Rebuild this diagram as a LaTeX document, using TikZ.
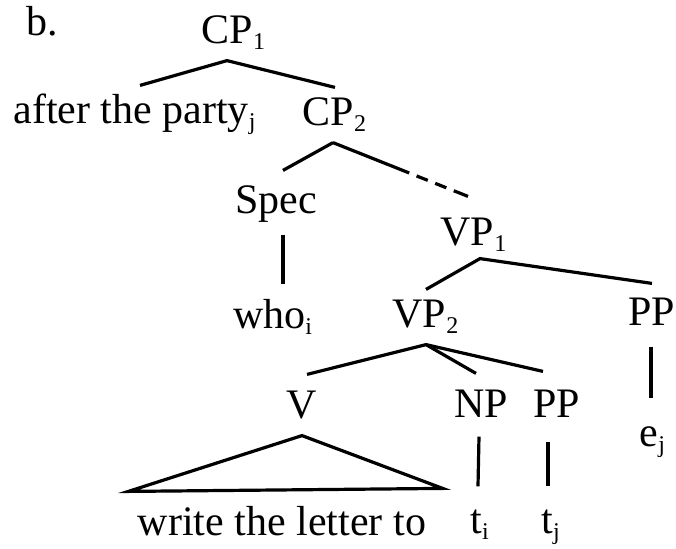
\documentclass[tikz,border=0pt]{standalone}
\usepackage{fontspec}
\setmainfont{Liberation Serif}
\usepackage{tikz}
\newcommand{\sbs}[1]{\textsubscript{\fontsize{12}{12}\selectfont #1}}

\begin{document}
\begin{tikzpicture}[x=0.5pt,y=-0.5pt,line width=1.6pt,
                    cat/.style={font=\fontsize{21}{25}\selectfont,anchor=base,text height=14pt,text depth=4pt,inner sep=4pt}]
                    \useasboundingbox (0,0) rectangle (676,548);

                    \node[cat] (lbl) at (42,35) {b.};
                    \node[cat] (cp1) at (234,43) {CP\sbs{1}};
                    \node[cat] (after) at (135,123) {after the party\sbs{j}};
                    \node[cat] (cp2) at (335,125) {CP\sbs{2}};
                    \node[cat] (spec) at (276,213) {Spec};
                    \node[cat] (vp1) at (474,245) {VP\sbs{1}};
                    \node[cat] (who) at (273,328) {who\sbs{i}};
                    \node[cat] (vp2) at (426,327) {VP\sbs{2}};
                    \node[cat] (pp1) at (652,325) {PP};
                    \node[cat] (v) at (302,418) {V};
                    \node[cat] (np) at (481,417) {NP};
                    \node[cat] (pp2) at (557,417) {PP};
                    \node[cat] (ce) at (653,446) {e\sbs{j}};
                    \node[cat] (write) at (282,535) {write the letter to};
                    \node[cat] (ti) at (480,533) {t\sbs{i}};
                    \node[cat] (tj) at (551,533) {t\sbs{j}};

                    \draw ([xshift=2.5pt]after.north) -- ([xshift=-3.5pt]cp1.south) -- (cp2.north);
                    \draw ([xshift=3.5pt,yshift=2.5pt]spec.north) -- ([xshift=-1pt]cp2.south);
                    \draw[dash pattern=on 41pt off 4pt on 6pt off 4pt on 6pt off 4pt on 8pt off 20pt] ([xshift=-1pt]cp2.south) -- ([xshift=-3pt,yshift=5.5pt]vp1.north);
                    \draw ([xshift=3.5pt,yshift=-2pt]spec.south) -- ([xshift=5pt,yshift=3pt]who.north);
                    \draw (vp2.north) -- ([xshift=3pt,yshift=2pt]vp1.south) -- ([yshift=2pt]pp1.north);
                    \draw ([xshift=2.5pt,yshift=3pt]v.north) -- (vp2.south) -- ([xshift=-2.5pt,yshift=3pt]np.north);
                    \draw (vp2.south) -- ([xshift=-7pt,yshift=4pt]pp2.north);
                    \draw ([xshift=-0.5pt,yshift=-2pt]pp1.south) -- ([xshift=-1pt,yshift=5pt]ce.north);
                    \draw (v.south) -- ([yshift=3pt]write.north west) -- ([xshift=3.5pt,yshift=4.5pt]write.north east) -- cycle;
                    \draw ([xshift=-1pt,yshift=-1pt]np.south) -- ([xshift=-1pt,yshift=4.5pt]ti.north);
                    \draw ([xshift=-4.5pt,yshift=-3.5pt]pp2.south) -- ([xshift=-1.5pt,yshift=4.5pt]tj.north);
                    \end{tikzpicture}
\end{document}
